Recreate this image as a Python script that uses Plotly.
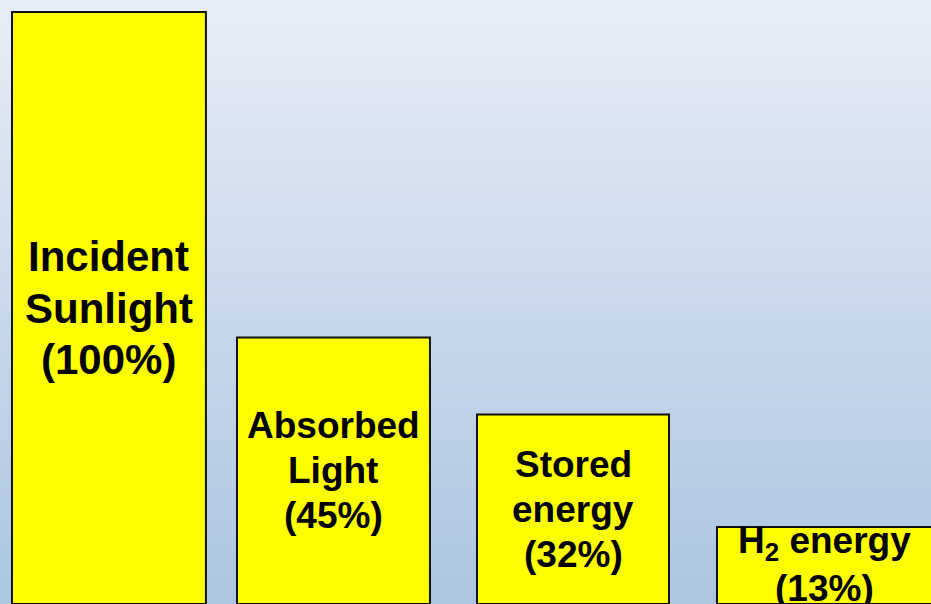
import plotly.graph_objects as go

# Energy conversion stages and their share of the incident sunlight (%)
stages = ["Incident Sunlight", "Absorbed Light", "Stored energy", "H2 energy"]
stage_lines = [["Incident", "Sunlight"], ["Absorbed", "Light"], ["Stored", "energy"], ["H<sub>2</sub> energy"]]
shares = [100, 45, 32, 13]

W, H = 931, 604
FONT = "Liberation Sans, Arial, sans-serif"
label_sizes = [42, 37, 37, 37]
LINE_HEIGHT = 1.22

# Bar placement inside each category slot (left edge offset and width, in slot units)
bar_offsets = [-0.3375, -0.4, -0.4, -0.4]
bar_widths = [0.808, 0.804, 0.80, 0.92]

fig = go.Figure()

fig.add_trace(go.Bar(
    x=stages,
    y=shares,
    offset=bar_offsets,
    width=bar_widths,
    marker=dict(color="#ffff00", line=dict(color="#111111", width=2)),
    hoverinfo="skip",
))

# Label centred on each bar: stage name lines plus its percentage
for i, (lines, share, size) in enumerate(zip(stage_lines, shares, label_sizes)):
    rows = lines + [f"({share}%)"]
    n = len(rows)
    xc = i + bar_offsets[i] + min(bar_widths[i], 0.9) / 2
    for j, row in enumerate(rows):
        fig.add_annotation(
            x=xc, y=share / 2, xref="x", yref="y",
            yshift=((n - 1) / 2 - j) * size * LINE_HEIGHT,
            text=f"<b>{row}</b>",
            showarrow=False,
            font=dict(family=FONT, size=size, color="#000000"),
            align="center", xanchor="center", yanchor="middle",
        )

# Vertical background gradient, light at the top to soft blue at the bottom
top_rgb = (231, 237, 246)
bot_rgb = (172, 197, 224)
bands = 151
shapes = []
for k in range(bands):
    t = k / (bands - 1)
    r, g, b = (round(top_rgb[c] + (bot_rgb[c] - top_rgb[c]) * t) for c in range(3))
    shapes.append(dict(
        type="rect", xref="paper", yref="paper", layer="below",
        x0=0, x1=1, y0=1 - (k + 1) / bands, y1=1 - k / bands,
        fillcolor=f"rgb({r},{g},{b})", line=dict(width=0),
    ))

fig.update_layout(
    width=W, height=H,
    margin=dict(l=0, r=0, t=0, b=0),
    paper_bgcolor="rgba(0,0,0,0)",
    plot_bgcolor="rgba(0,0,0,0)",
    shapes=shapes,
    showlegend=False,
    xaxis=dict(visible=False, type="category", range=[-0.3875, 3.4917]),
    yaxis=dict(visible=False, range=[0, 102.03]),
)

fig.write_html("out.html")
